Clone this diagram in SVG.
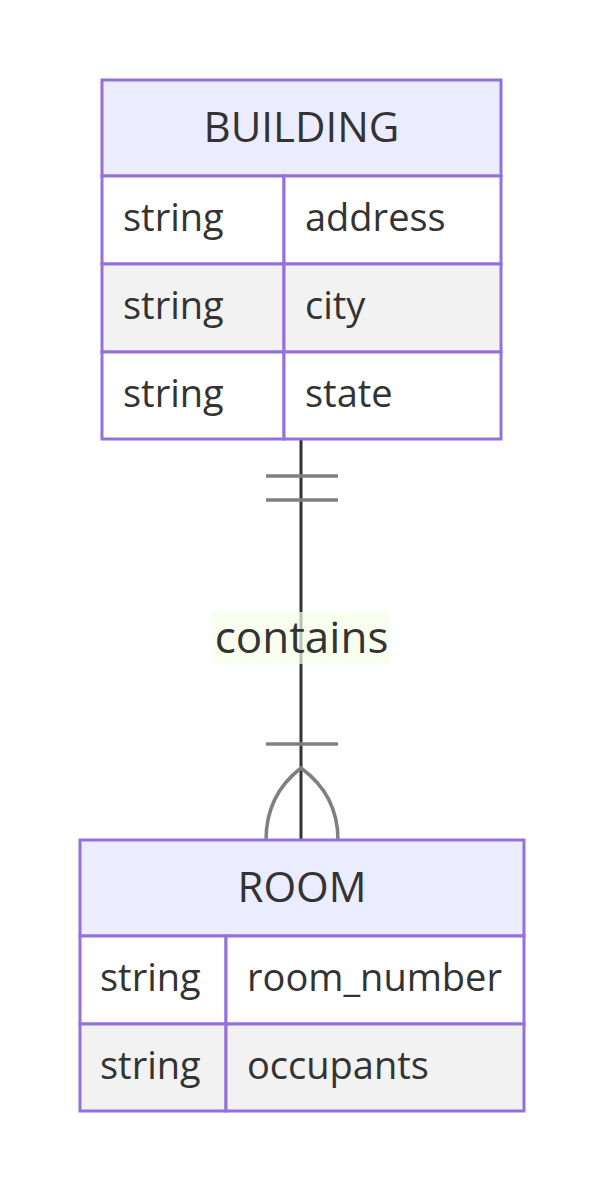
<svg xmlns="http://www.w3.org/2000/svg" width="604" height="1192" viewBox="0 0 604 1192">
<style>
.box{stroke:#9370DB;stroke-width:3}
.hdr{fill:#ECECFF}
.odd{fill:#FFFFFF}
.even{fill:#F2F2F2}
text{font-family:"Open Sans","Noto Sans","DejaVu Sans",sans-serif;fill:#333333}
.title{font-size:42px;text-anchor:middle}
.attr{font-size:38px}
.rel{stroke:#333333;stroke-width:3;fill:none}
.mark{stroke:#808080;stroke-width:3.5;fill:none}
.lbl{font-size:44px;text-anchor:middle}
</style>
<rect width="604" height="1192" fill="#FFFFFF"/>
<g id="connectors">
<line class="rel" x1="301" y1="439" x2="301" y2="840"/>
<line class="mark" x1="266" y1="476" x2="338" y2="476"/>
<line class="mark" x1="266" y1="500" x2="338" y2="500"/>
<line class="mark" x1="266" y1="744" x2="338" y2="744"/>
<path class="mark" d="M266,840 Q266,795 301,768 Q338,795 338,840"/>
<g id="label-contains">
<rect x="213" y="612" width="177" height="52" fill="#F7FFE8" opacity="0.7"/>
<text class="lbl" x="301.5" y="653">contains</text>
</g>
</g>
<g id="BUILDING">
<rect class="box hdr" x="102" y="80" width="399" height="96"/>
<rect class="box odd" x="102" y="176" width="182" height="88"/>
<rect class="box odd" x="284" y="176" width="217" height="88"/>
<rect class="box even" x="102" y="264" width="182" height="88"/>
<rect class="box even" x="284" y="264" width="217" height="88"/>
<rect class="box odd" x="102" y="352" width="182" height="87"/>
<rect class="box odd" x="284" y="352" width="217" height="87"/>
<text class="title" x="301.5" y="142">BUILDING</text>
<text class="attr" x="123" y="231">string</text>
<text class="attr" x="305" y="231">address</text>
<text class="attr" x="123" y="319">string</text>
<text class="attr" x="305" y="319">city</text>
<text class="attr" x="123" y="407">string</text>
<text class="attr" x="305" y="407">state</text>
</g>
<g id="ROOM">
<rect class="box hdr" x="80" y="840" width="444" height="96"/>
<rect class="box odd" x="80" y="936" width="146" height="88"/>
<rect class="box odd" x="226" y="936" width="298" height="88"/>
<rect class="box even" x="80" y="1024" width="146" height="87"/>
<rect class="box even" x="226" y="1024" width="298" height="87"/>
<text class="title" x="302" y="902">ROOM</text>
<text class="attr" x="100" y="991">string</text>
<text class="attr" x="247" y="991">room_number</text>
<text class="attr" x="100" y="1079">string</text>
<text class="attr" x="247" y="1079">occupants</text>
</g>
</svg>
